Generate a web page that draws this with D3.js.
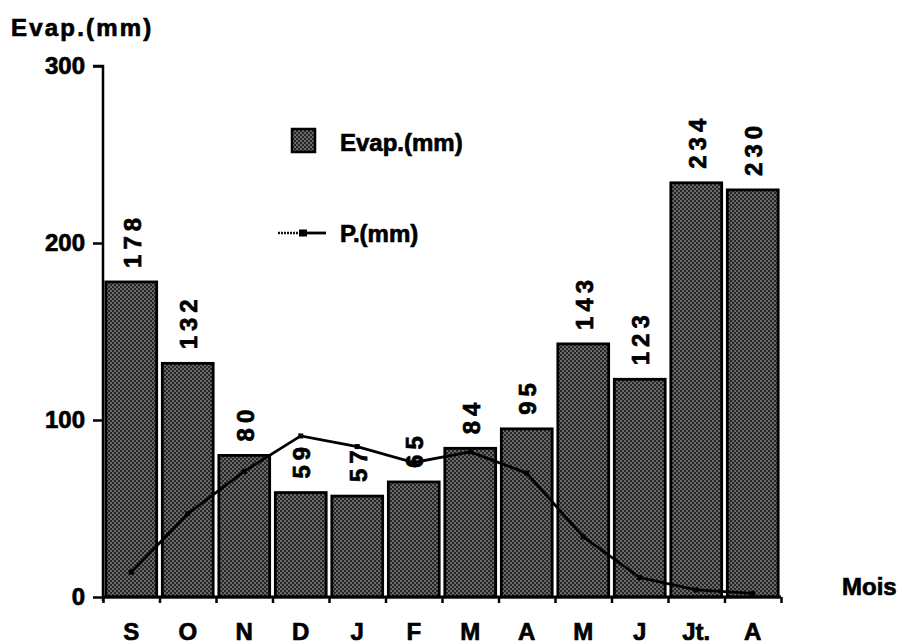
<!DOCTYPE html>
<html>
<head>
<meta charset="utf-8">
<script src="https://cdn.jsdelivr.net/npm/d3@7/dist/d3.min.js"></script>
<style>
  html, body { margin: 0; padding: 0; background: #fff; }
  svg { display: block; }
  text { font-family: "Liberation Sans", Arial, Helvetica, sans-serif; font-weight: bold; fill: #000; stroke: #000; stroke-width: 0.7px; }
</style>
</head>
<body>
<svg id="chart" width="902" height="644"></svg>
<script>
// Monthly evaporation (bars) and precipitation (line), September to August
const months = ["S", "O", "N", "D", "J", "F", "M", "A", "M", "J", "Jt.", "A"];
const evap = [178, 132, 80, 59, 57, 65, 84, 95, 143, 123, 234, 230];
const precip = [14, 47, 71, 91, 85, 76, 82, 70, 34, 11, 4, 2];
const yTicks = [0, 100, 200, 300];
const seriesNames = ["Evap.(mm)", "P.(mm)"];

const svg = d3.select("#chart");
const margin = { left: 103, right: 121, top: 66, bottom: 47 };
const W = 902, H = 644;

const x = d3.scaleBand()
  .domain(d3.range(months.length))
  .range([margin.left, W - margin.right])
  .paddingInner(0.1)
  .paddingOuter(0.05);
const y = d3.scaleLinear().domain([0, 300]).range([H - margin.bottom, margin.top]);
const step = x.step();
const bw = x.bandwidth();
const cx = i => x(i) + bw / 2;

// Stippled fill for the bars
const defs = svg.append("defs");
const pat = defs.append("pattern")
  .attr("id", "stipple")
  .attr("patternUnits", "userSpaceOnUse")
  .attr("width", 4).attr("height", 4);
pat.append("rect").attr("width", 4).attr("height", 4).attr("fill", "#262626");
pat.append("rect").attr("x", 0.4).attr("y", 0.4).attr("width", 1.3).attr("height", 1.3).attr("fill", "#c4c4c4");
pat.append("rect").attr("x", 2.4).attr("y", 2.4).attr("width", 1.3).attr("height", 1.3).attr("fill", "#c4c4c4");

// Bars
svg.append("g").selectAll("rect")
  .data(evap)
  .join("rect")
  .attr("x", (d, i) => x(i))
  .attr("y", d => y(d))
  .attr("width", bw)
  .attr("height", d => y(0) - y(d))
  .attr("fill", "url(#stipple)")
  .attr("stroke", "#000")
  .attr("stroke-width", 2.8);

// Value labels, rotated above each bar
svg.append("g").selectAll("text")
  .data(evap)
  .join("text")
  .attr("transform", (d, i) => `translate(${cx(i) + 1},${y(d) - 14}) rotate(-90)`)
  .attr("text-anchor", "start")
  .attr("dominant-baseline", "central")
  .attr("font-size", 24)
  .attr("letter-spacing", 5)
  .text(d => d);

// Precipitation line
const line = d3.line()
  .x((d, i) => cx(i))
  .y(d => y(d));
svg.append("path")
  .datum(precip)
  .attr("d", line)
  .attr("fill", "none")
  .attr("stroke", "#000")
  .attr("stroke-width", 2.8);
svg.append("g").selectAll("rect")
  .data(precip)
  .join("rect")
  .attr("x", (d, i) => cx(i) - 2.5)
  .attr("y", d => y(d) - 2.5)
  .attr("width", 5).attr("height", 5)
  .attr("fill", "#000");

// Y axis
const yAxis = d3.axisLeft(y).tickValues(yTicks).tickSize(10).tickPadding(8).tickFormat(d3.format("d"));
const gy = svg.append("g").attr("transform", `translate(${margin.left},0)`).call(yAxis);
gy.select(".domain").attr("stroke", "#000").attr("stroke-width", 2.5)
  .attr("d", `M-10,${y(300)}H0V${y(0) + 4}`);
gy.selectAll(".tick line").attr("stroke", "#000").attr("stroke-width", 2.5);
gy.selectAll(".tick text").attr("font-size", 24).attr("font-family", "Liberation Sans, Arial, sans-serif").attr("font-weight", "bold").attr("fill", "#000");

// X axis: ticks on month boundaries, labels centred under bars
const xEdges = d3.scaleLinear().domain([0, months.length]).range([x(0) - step * 0.05, x(0) - step * 0.05 + step * months.length]);
const xAxis = d3.axisBottom(xEdges).tickValues(d3.range(months.length + 1)).tickSize(6).tickFormat("");
const gx = svg.append("g").attr("transform", `translate(0,${y(0)})`).call(xAxis);
gx.select(".domain").attr("stroke", "#000").attr("stroke-width", 3).attr("d", `M${xEdges(0)},0H${xEdges(months.length)}`);
gx.selectAll(".tick line").attr("stroke", "#000").attr("stroke-width", 2.5);

svg.append("g").selectAll("text")
  .data(months)
  .join("text")
  .attr("x", (d, i) => cx(i))
  .attr("y", 640)
  .attr("text-anchor", "middle")
  .attr("font-size", 24)
  .text(d => d);

// Axis titles
svg.append("text").attr("x", 11).attr("y", 36).attr("font-size", 24).attr("letter-spacing", 2.2).text(seriesNames[0]);
svg.append("text").attr("x", 842).attr("y", 595).attr("font-size", 24).text("Mois");

// Legend
const lg = svg.append("g");
lg.append("rect").attr("x", 292).attr("y", 129).attr("width", 23).attr("height", 23)
  .attr("fill", "url(#stipple)").attr("stroke", "#000").attr("stroke-width", 2.5);
lg.append("text").attr("x", 340).attr("y", 151).attr("font-size", 24).text(seriesNames[0]);
lg.append("line").attr("x1", 278).attr("x2", 300).attr("y1", 233).attr("y2", 233)
  .attr("stroke", "#111").attr("stroke-width", 2.4).attr("stroke-dasharray", "2,1");
lg.append("line").attr("x1", 306).attr("x2", 326).attr("y1", 233).attr("y2", 233)
  .attr("stroke", "#000").attr("stroke-width", 2.8);
lg.append("rect").attr("x", 299).attr("y", 229.5).attr("width", 8).attr("height", 7).attr("fill", "#000");
lg.append("text").attr("x", 340).attr("y", 242).attr("font-size", 24).text(seriesNames[1]);
</script>
</body>
</html>
